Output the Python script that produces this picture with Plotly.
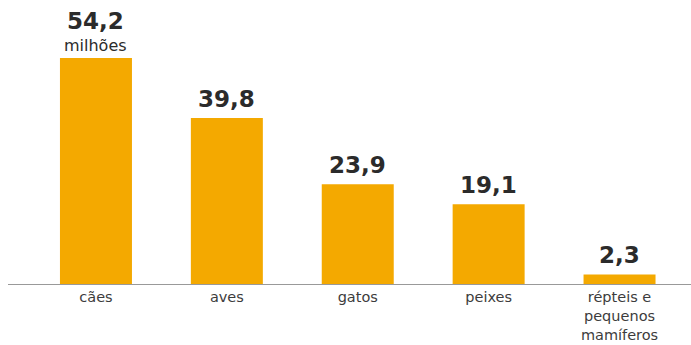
import plotly.graph_objects as go

categories = ["cães", "aves", "gatos", "peixes", "répteis e<br>pequenos<br>mamíferos"]
values = [54.2, 39.8, 23.9, 19.1, 2.3]
value_labels = ["54,2", "39,8", "23,9", "19,1", "2,3"]
unit_label = "milhões"

xs = list(range(len(categories)))

fig = go.Figure()
fig.add_trace(go.Bar(
    x=xs, y=values,
    marker=dict(color="#F4A900", line=dict(width=0)),
    hoverinfo="skip",
))

for i, (v, lab) in enumerate(zip(values, value_labels)):
    shift = 37 if i == 0 else 19
    fig.add_annotation(x=i, y=v, text=f"<b>{lab}</b>", showarrow=False,
                       yshift=shift, yanchor="middle",
                       font=dict(family="DejaVu Sans", size=23, color="#2b2b2b"))
fig.add_annotation(x=0, y=values[0], text=unit_label, showarrow=False,
                   yshift=12, yanchor="middle",
                   font=dict(family="DejaVu Sans", size=16, color="#2b2b2b"))

fig.update_layout(
    width=691, height=345,
    margin=dict(l=8, r=0, t=0, b=61),
    paper_bgcolor="white", plot_bgcolor="white",
    bargap=0.45, showlegend=False,
    xaxis=dict(
        range=[-0.672, 4.546],
        tickmode="array", tickvals=xs, ticktext=categories,
        showgrid=False, zeroline=False,
        showline=True, linecolor="#999999", linewidth=1,
        ticks="", tickfont=dict(family="DejaVu Sans", size=14.5, color="#3c3c3c"),
        fixedrange=True,
    ),
    yaxis=dict(range=[0, 68.1], visible=False, fixedrange=True),
)

fig.write_html("out.html")
